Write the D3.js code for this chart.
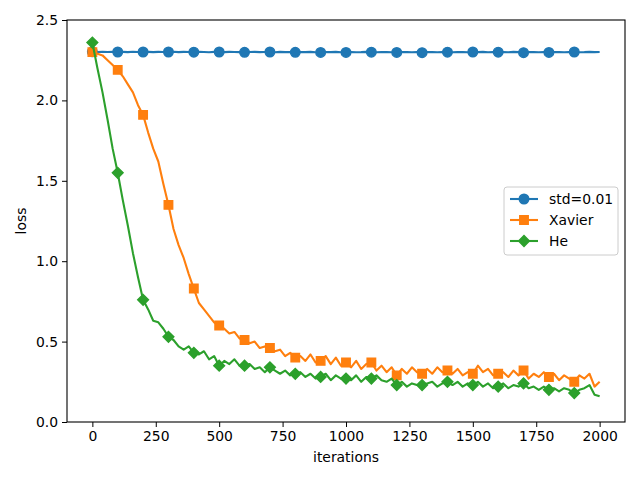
<!DOCTYPE html>
<html>
<head>
<meta charset="utf-8">
<script src="https://cdn.jsdelivr.net/npm/d3@7"></script>
<style>
  body { margin: 0; background: #fff; }
  svg text { font-family: "DejaVu Sans", sans-serif; }
</style>
</head>
<body>
<div id="chart"></div>
<script>
// iterations sampled every 20 steps, 0..2000
const step = 20;
const stdLoss = [
  2.302, 2.301, 2.303, 2.301, 2.302, 2.301, 2.302, 2.300, 2.303, 2.301,
  2.301, 2.302, 2.300, 2.302, 2.301, 2.301, 2.303, 2.300, 2.302, 2.301,
  2.300, 2.302, 2.301, 2.299, 2.302, 2.301, 2.300, 2.302, 2.301, 2.300,
  2.299, 2.301, 2.302, 2.300, 2.301, 2.301, 2.299, 2.302, 2.300, 2.301,
  2.299, 2.301, 2.300, 2.302, 2.299, 2.298, 2.301, 2.300, 2.302, 2.299,
  2.298, 2.301, 2.299, 2.300, 2.302, 2.300, 2.299, 2.301, 2.300, 2.299,
  2.298, 2.300, 2.301, 2.299, 2.300, 2.297, 2.300, 2.301, 2.299, 2.300,
  2.300, 2.299, 2.301, 2.300, 2.299, 2.301, 2.300, 2.302, 2.299, 2.300,
  2.300, 2.301, 2.299, 2.302, 2.300, 2.297, 2.300, 2.301, 2.299, 2.300,
  2.298, 2.300, 2.301, 2.299, 2.300, 2.301, 2.299, 2.300, 2.302, 2.300,
  2.301
];
const xavierLoss = [
  2.30, 2.29, 2.28, 2.25, 2.22, 2.19, 2.15, 2.10, 2.05, 1.97,
  1.91, 1.80, 1.70, 1.62, 1.48, 1.35, 1.20, 1.10, 1.02, 0.92,
  0.83, 0.74, 0.70, 0.66, 0.62, 0.60, 0.58, 0.55, 0.56, 0.52,
  0.51, 0.49, 0.50, 0.46, 0.47, 0.46, 0.44, 0.45, 0.41, 0.43,
  0.40, 0.41, 0.38, 0.42, 0.37, 0.38, 0.41, 0.36, 0.40, 0.35,
  0.37, 0.34, 0.38, 0.33, 0.36, 0.37, 0.32, 0.35, 0.31, 0.34,
  0.29, 0.33, 0.30, 0.34, 0.31, 0.30, 0.33, 0.30, 0.34, 0.31,
  0.32, 0.30, 0.33, 0.29, 0.31, 0.30, 0.35, 0.31, 0.33, 0.29,
  0.30, 0.31, 0.28, 0.32, 0.29, 0.32, 0.27, 0.30, 0.28, 0.31,
  0.28, 0.30, 0.26, 0.29, 0.27, 0.25, 0.29, 0.27, 0.30, 0.22,
  0.25
];
const heLoss = [
  2.36, 2.20, 2.05, 1.88, 1.70, 1.55, 1.38, 1.22, 1.05, 0.90,
  0.76, 0.70, 0.63, 0.62, 0.58, 0.53, 0.51, 0.47, 0.45, 0.47,
  0.43, 0.42, 0.44, 0.39, 0.41, 0.35, 0.38, 0.36, 0.39, 0.35,
  0.35, 0.36, 0.33, 0.34, 0.31, 0.34, 0.32, 0.30, 0.32, 0.29,
  0.30, 0.31, 0.28, 0.30, 0.27, 0.28, 0.30, 0.26, 0.29, 0.27,
  0.27, 0.26, 0.29, 0.25, 0.28, 0.27, 0.29, 0.26, 0.25, 0.27,
  0.23, 0.25, 0.22, 0.24, 0.23, 0.23, 0.24, 0.25, 0.22, 0.24,
  0.25, 0.23, 0.25, 0.22, 0.24, 0.23, 0.25, 0.22, 0.24, 0.21,
  0.22, 0.24, 0.21, 0.23, 0.22, 0.24, 0.21, 0.22, 0.20, 0.22,
  0.20, 0.21, 0.19, 0.21, 0.20, 0.18, 0.20, 0.21, 0.23, 0.17,
  0.16
];
const seriesNames = ['std=0.01', 'Xavier', 'He'];
const xTicks = [0, 250, 500, 750, 1000, 1250, 1500, 1750, 2000];
const yTicks = [0.0, 0.5, 1.0, 1.5, 2.0, 2.5];
const markEvery = 100;

const width = 640, height = 480;
const margin = { top: 20, right: 15, bottom: 58, left: 67 };
const colors = ['#1f77b4', '#ff7f0e', '#2ca02c'];
const shapes = [d3.symbolCircle, d3.symbolSquare, d3.symbolSquare];
const shapeSizes = [72, 72, 58];
const shapeRotate = [0, 0, 45];

const series = [stdLoss, xavierLoss, heLoss].map((vals, i) => ({
  name: seriesNames[i],
  points: vals.map((v, j) => ({ it: j * step, v }))
}));

const svg = d3.select('#chart').append('svg')
  .attr('width', width)
  .attr('height', height);

const x = d3.scaleLinear()
  .domain([-100, 2100])
  .range([margin.left, width - margin.right]);

const y = d3.scaleLinear()
  .domain([0, 2.5])
  .range([height - margin.bottom, margin.top]);

// axes
const xAxis = svg.append('g')
  .attr('transform', `translate(0, ${height - margin.bottom})`)
  .call(d3.axisBottom(x).tickValues(xTicks).tickSize(5).tickPadding(4).tickFormat(d3.format('d')));

const yAxis = svg.append('g')
  .attr('transform', `translate(${margin.left}, 0)`)
  .call(d3.axisLeft(y).tickValues(yTicks).tickSize(5).tickPadding(4).tickFormat(d3.format('.1f')));

[xAxis, yAxis].forEach(g => {
  g.select('.domain').remove();
  g.selectAll('.tick line').attr('stroke', '#000').attr('stroke-width', 1);
  g.selectAll('.tick text')
    .attr('fill', '#000')
    .style('font-size', '13.9px')
    .style('font-family', '"DejaVu Sans", sans-serif');
});

// clip to plotting area
svg.append('clipPath').attr('id', 'plot-clip')
  .append('rect')
  .attr('x', margin.left)
  .attr('y', margin.top)
  .attr('width', width - margin.left - margin.right)
  .attr('height', height - margin.top - margin.bottom);

const line = d3.line()
  .x(d => x(d.it))
  .y(d => y(d.v));

const plot = svg.append('g').attr('clip-path', 'url(#plot-clip)');

series.forEach((s, i) => {
  plot.append('path')
    .datum(s.points)
    .attr('fill', 'none')
    .attr('stroke', colors[i])
    .attr('stroke-width', 2.1)
    .attr('stroke-linejoin', 'round')
    .attr('d', line);

  plot.selectAll(`.mark-${i}`)
    .data(s.points.filter(d => d.it % markEvery === 0 && d.it < 2000))
    .enter().append('path')
    .attr('class', `mark-${i}`)
    .attr('transform', d => `translate(${x(d.it)}, ${y(d.v)}) rotate(${shapeRotate[i]})`)
    .attr('d', d3.symbol().type(shapes[i]).size(shapeSizes[i]))
    .attr('fill', colors[i])
    .attr('stroke', colors[i])
    .attr('stroke-width', 1.4);
});

// frame
svg.append('rect')
  .attr('x', margin.left)
  .attr('y', margin.top)
  .attr('width', width - margin.left - margin.right)
  .attr('height', height - margin.top - margin.bottom)
  .attr('fill', 'none')
  .attr('stroke', '#000')
  .attr('stroke-width', 1.1);

// axis labels
svg.append('text')
  .attr('x', (margin.left + width - margin.right) / 2)
  .attr('y', 462)
  .attr('text-anchor', 'middle')
  .style('font-size', '13.9px')
  .text('iterations');

svg.append('text')
  .attr('transform', `translate(26, ${(margin.top + height - margin.bottom) / 2}) rotate(-90)`)
  .attr('text-anchor', 'middle')
  .style('font-size', '13.9px')
  .text('loss');

// legend
const legend = svg.append('g').attr('transform', 'translate(504, 187)');
legend.append('rect')
  .attr('width', 114)
  .attr('height', 68)
  .attr('rx', 3)
  .attr('fill', '#fff')
  .attr('fill-opacity', 0.8)
  .attr('stroke', '#ccc');

seriesNames.forEach((name, i) => {
  const row = legend.append('g').attr('transform', `translate(0, ${12 + i * 21})`);
  row.append('line')
    .attr('x1', 6).attr('x2', 34)
    .attr('stroke', colors[i])
    .attr('stroke-width', 2.1);
  row.append('path')
    .attr('transform', `translate(20, 0) rotate(${shapeRotate[i]})`)
    .attr('d', d3.symbol().type(shapes[i]).size(shapeSizes[i]))
    .attr('fill', colors[i])
    .attr('stroke', colors[i])
    .attr('stroke-width', 1.4);
  row.append('text')
    .attr('x', 45)
    .attr('y', 5)
    .style('font-size', '13.9px')
    .text(name);
});
</script>
</body>
</html>
